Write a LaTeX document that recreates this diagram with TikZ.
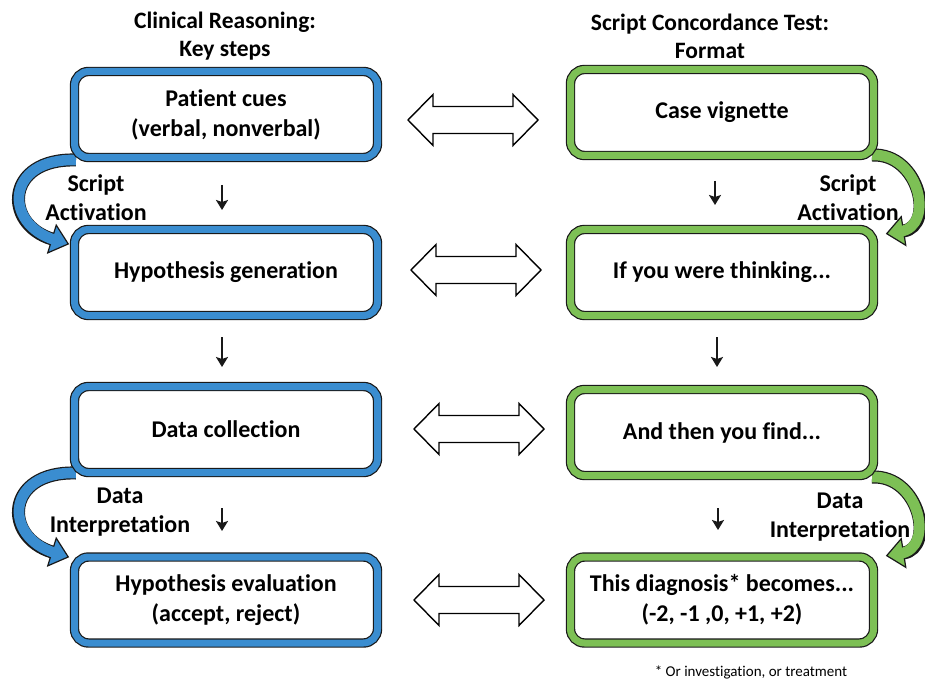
\documentclass[tikz,border=0pt]{standalone}
\usepackage{fontspec}
\setmainfont[Ligatures=NoCommon]{Carlito}
\usetikzlibrary{arrows.meta,shadows}
\definecolor{boxblue}{RGB}{58,141,208}
\definecolor{boxgreen}{RGB}{125,192,85}
\definecolor{edge}{RGB}{25,25,25}
\begin{document}
\begin{tikzpicture}[x=1pt,y=-1pt,
  box/.style={rectangle, rounded corners=14pt, minimum width=303pt, minimum height=86pt,
    line width=1.2pt, draw=edge, double distance=7pt, fill=white, align=center,
    inner sep=0pt, font=\bfseries\fontsize{24}{30}\selectfont,
    drop shadow={shadow xshift=1.5pt, shadow yshift=-2.5pt, opacity=0.35, fill=black}},
  bluebox/.style={box, double=boxblue},
  greenbox/.style={box, double=boxgreen},
  lbl/.style={align=center, inner sep=0pt, font=\bfseries\fontsize{24}{29}\selectfont},
  hdr/.style={align=center, inner sep=0pt, font=\bfseries\fontsize{23.5}{28}\selectfont},
  foot/.style={inner sep=0pt, font=\fontsize{15}{18}\selectfont},
  varrow/.style={line width=1.9pt, draw=edge, -{Stealth[length=10pt,width=12pt,inset=2pt]}},
  bandout/.style={line width=13pt, draw=edge},
  bandin/.style={line width=10.6pt, shorten >=-3pt},
  headshape/.pic={\draw[line width=1.2pt, draw=edge, fill=#1, line join=miter]
     (0,-14.5) -- (17,0) -- (0,14.5) -- cycle;},
  dblarrow/.pic={\draw[line width=1.4pt, draw=black, fill=white, line join=miter]
     (-65,0) -- (-40,-25.5) -- (-40,-13.5) -- (40,-13.5) -- (40,-25.5) -- (65,0)
     -- (40,25.5) -- (40,13.5) -- (-40,13.5) -- (-40,25.5) -- cycle;}
]
\useasboundingbox (0,0) rectangle (925,684);
\fill[white] (0,0) rectangle (925,684);

% curved arrows (drawn first, boxes cover their tails)
\coordinate (cl1s) at (76,160);  \coordinate (cl1e) at (52,239);
\coordinate (cl2s) at (76,473);  \coordinate (cl2e) at (52,552);
\coordinate (cr1s) at (872,155); \coordinate (cr1e) at (903.5,231);
\coordinate (cr2s) at (872,477); \coordinate (cr2e) at (903.5,553);

\draw[bandout] (cl1s) .. controls (5,158) and (3,224) .. (cl1e);
\pic[rotate=-17] at (cl1e) {headshape=boxblue};
\draw[bandin, boxblue] (cl1s) .. controls (5,158) and (3,224) .. (cl1e);

\draw[bandout] (cl2s) .. controls (5,471) and (3,537) .. (cl2e);
\pic[rotate=-17] at (cl2e) {headshape=boxblue};
\draw[bandin, boxblue] (cl2s) .. controls (5,471) and (3,537) .. (cl2e);

\draw[bandout] (cr1s) .. controls (920,153) and (935,226) .. (cr1e);
\pic[rotate=189] at (cr1e) {headshape=boxgreen};
\draw[bandin, boxgreen] (cr1s) .. controls (920,153) and (935,226) .. (cr1e);

\draw[bandout] (cr2s) .. controls (920,475) and (935,548) .. (cr2e);
\pic[rotate=189] at (cr2e) {headshape=boxgreen};
\draw[bandin, boxgreen] (cr2s) .. controls (920,475) and (935,548) .. (cr2e);

% headers
\node[hdr] (h1) at (225,36) {Clinical Reasoning:\\Key steps};
\node[hdr] (h2) at (710,36) {Script Concordance Test:\\Format};

% boxes
\node[bluebox] (L1) at (226,114.5) {Patient cues\\(verbal, nonverbal)};
\node[bluebox] (L2) at (226,272.5) {Hypothesis generation};
\node[bluebox] (L3) at (226,429.5) {Data collection};
\node[bluebox] (L4) at (226,600) {Hypothesis evaluation\\(accept, reject)};
\node[greenbox] (R1) at (722,112.5) {Case vignette};
\node[greenbox] (R2) at (722,272.5) {If you were thinking...};
\node[greenbox] (R3) at (722,432.5) {And then you find...};
\node[greenbox] (R4) at (722,600) {This diagnosis* becomes...\\(-2, -1 ,0, +1, +2)};

% labels
\node[lbl] (sa1) at (96,197.5) {Script\\Activation};
\node[lbl] (di1) at (120,512.5) {Data\\Interpretation};
\node[lbl] (sa2) at (848,197.5) {Script\\Activation};
\node[lbl] (di2) at (840,517) {Data\\Interpretation};

% small down arrows
\coordinate (vl1s) at (222,185); \coordinate (vl1e) at (222,210);
\coordinate (vl2s) at (222,337); \coordinate (vl2e) at (222,367);
\coordinate (vl3s) at (222,508); \coordinate (vl3e) at (222,531);
\coordinate (vr1s) at (715,181); \coordinate (vr1e) at (715,205);
\coordinate (vr2s) at (717,337); \coordinate (vr2e) at (717,367);
\coordinate (vr3s) at (718,508); \coordinate (vr3e) at (718,530);
\draw[varrow] (vl1s) -- (vl1e);
\draw[varrow] (vl2s) -- (vl2e);
\draw[varrow] (vl3s) -- (vl3e);
\draw[varrow] (vr1s) -- (vr1e);
\draw[varrow] (vr2s) -- (vr2e);
\draw[varrow] (vr3s) -- (vr3e);

% double arrows
\pic (d1) at (473,120) {dblarrow};
\pic (d2) at (476,270) {dblarrow};
\pic (d3) at (479,429) {dblarrow};
\pic (d4) at (479,600) {dblarrow};

% footnote
\node[foot] (fn) at (751,672) {* Or investigation, or treatment};
\end{tikzpicture}
\end{document}
